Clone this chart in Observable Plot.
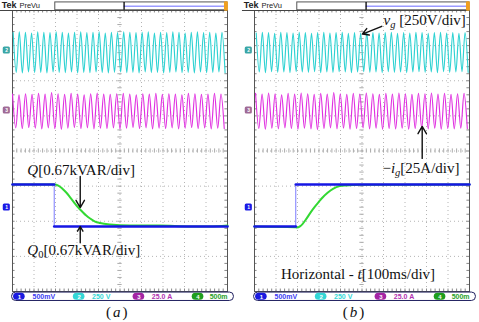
<!DOCTYPE html>
<html><head><meta charset="utf-8">
<script src="https://cdn.jsdelivr.net/npm/d3@7"></script>
<script src="https://cdn.jsdelivr.net/npm/@observablehq/plot@0.6"></script>
<style>
html,body{margin:0;padding:0;background:#fff;}
#chart{width:479px;height:322px;overflow:hidden;}
</style></head><body><div id="chart"></div>
<script>
// ---------- data (oscilloscope divisions) ----------
const panels = ["a", "b"];
const panelLabels = ["(a)", "(b)"];

// channel 2: grid voltage v_g — successive peaks / troughs
const cyanA_hi = [3.37,3.39,3.38,3.36,3.39,3.38,3.37,3.39,3.38,3.36,3.38,3.39,3.37,3.38,3.39,3.36,3.38,3.37,3.39,3.38,3.37,3.38,3.39,3.36,3.38,3.37,3.39,3.38,3.36,3.38,3.39,3.37,3.38,3.36,3.38];
const cyanA_lo = [2.24,2.22,2.25,2.23,2.24,2.22,2.25,2.24,2.23,2.25,2.22,2.24,2.23,2.25,2.24,2.22,2.24,2.25,2.23,2.24,2.22,2.25,2.23,2.24,2.22,2.24,2.25,2.23,2.24,2.22,2.25,2.23,2.24,2.25,2.23];
const cyanB_hi = [3.36,3.38,3.37,3.35,3.38,3.37,3.36,3.38,3.37,3.35,3.37,3.38,3.36,3.37,3.38,3.35,3.37,3.36,3.38,3.37,3.36,3.37,3.38,3.35,3.37,3.36,3.38,3.37,3.35,3.37,3.38,3.36,3.37,3.35,3.37];
const cyanB_lo = [2.25,2.23,2.26,2.24,2.25,2.23,2.26,2.25,2.24,2.26,2.23,2.25,2.24,2.26,2.25,2.23,2.25,2.26,2.24,2.25,2.23,2.26,2.24,2.25,2.23,2.25,2.26,2.24,2.25,2.23,2.26,2.24,2.25,2.26,2.24];
// channel 3: grid current -i_g — successive peaks / troughs
const magA_hi = [1.62,1.60,1.63,1.61,1.64,1.62,1.66,1.63,1.61,1.64,1.62,1.60,1.63,1.65,1.62,1.61,1.63,1.64,1.62,1.60,1.63,1.62,1.64,1.61,1.63,1.62,1.60,1.64,1.63,1.61,1.62,1.64,1.62];
const magA_lo = [0.66,0.64,0.67,0.65,0.63,0.66,0.64,0.62,0.65,0.67,0.64,0.66,0.63,0.65,0.64,0.66,0.62,0.65,0.67,0.64,0.66,0.63,0.65,0.64,0.66,0.63,0.65,0.67,0.64,0.66,0.63,0.65,0.64];
const magB_hi = [1.64,1.62,1.65,1.63,1.60,1.64,1.62,1.65,1.63,1.61,1.64,1.62,1.66,1.63,1.61,1.64,1.62,1.65,1.63,1.61,1.64,1.62,1.65,1.63,1.61,1.64,1.63,1.65,1.62,1.64,1.61,1.63,1.64];
const magB_lo = [0.64,0.62,0.65,0.63,0.66,0.64,0.62,0.65,0.63,0.61,0.64,0.66,0.63,0.65,0.62,0.64,0.66,0.63,0.65,0.62,0.64,0.63,0.65,0.62,0.64,0.66,0.63,0.65,0.62,0.64,0.63,0.65,0.64];

// channel 1: reference Q0 (step)
const blueA_x = [0, 1.94, 1.94, 10];
const blueA_y = [-0.954, -0.954, -2.151, -2.151];
const blueB_x = [0, 1.92, 1.92, 10];
const blueB_y = [-2.151, -2.151, -0.954, -0.954];
// channel 4: measured Q
const greenA_x = [0,1.944,2.13,2.31,2.50,2.69,2.87,3.06,3.24,3.43,3.61,3.84,4.07,4.54,5.46,6.85,8.24,9.17,10];
const greenA_y = [-0.954,-0.954,-0.983,-1.068,-1.182,-1.325,-1.467,-1.610,-1.724,-1.838,-1.923,-2.009,-2.051,-2.094,-2.123,-2.123,-2.151,-2.151,-2.123];
const greenB_x = [0,1.875,1.97,2.13,2.42,2.62,2.80,2.99,3.19,3.40,3.65,3.96,4.27,4.88,10];
const greenB_y = [-2.151,-2.17,-2.18,-2.14,-1.925,-1.74,-1.59,-1.45,-1.31,-1.19,-1.077,-1.00,-0.98,-0.962,-0.954];

// status bar
const chanNums = ["1","2","3","4"];
const chanScales = ["500mV","250 V","25.0 A","500m"];
const chanOval = ["#1a1ae0","#33d6d6","#a424a4","#1e9e1e"];
const chanText = ["#3a3af2","#33d6d6","#b030b0","#28a028"];

// annotations
const annTexts = ["Q[0.67kVAR/div]","Q0[0.67kVAR/div]","vg [250V/div]","−ig[25A/div]","Horizontal - t[100ms/div]"];
const annPanels = ["a","a","b","b","b"];
// ---------- layout ----------
const annPos = [[0.69,-0.556],[0.69,-2.81],[6.0,3.72],[5.95,-0.50],[1.23,-3.52]];
const arrowPos = [
  {panel:"a", x1:3.15, y1:-0.726, x2:3.15, y2:-1.61},
  {panel:"a", x1:3.15, y1:-2.61, x2:3.15, y2:-2.15},
  {panel:"b", x1:5.92, y1:3.55, x2:5.02, y2:3.33},
  {panel:"b", x1:7.80, y1:-0.21, x2:7.80, y2:0.70}
];
const statusOvalX = [0.32,3.10,5.88,8.63];
const statusTextX = [0.93,3.70,6.48,9.17];
const tags = [
  {y:2.86, color:"#3aa6a6", n:"2"},
  {y:1.15, color:"#a06a96", n:"3"},
  {y:-1.61, color:"#1a1ae6", n:"1"}
];

function wave(panel, hi, lo, phase) {
  const n = Math.min(hi.length, lo.length), s = 10 / (2 * n), pts = [];
  for (let i = 0; i < n; i++) {
    pts.push({panel, x: phase + 2 * i * s, y: hi[i]});
    pts.push({panel, x: phase + (2 * i + 1) * s, y: lo[i]});
  }
  return pts;
}
const series = (panel, xs, ys) => xs.map((x, i) => ({panel, x, y: ys[i]}));

const cyan = [...wave("a", cyanA_hi, cyanA_lo, 0.03), ...wave("b", cyanB_hi, cyanB_lo, 0.08)];
const magenta = [...wave("a", magA_hi, magA_lo, 0.0), ...wave("b", magB_hi, magB_lo, 0.05)];
const green = [...series("a", greenA_x, greenA_y), ...series("b", greenB_x, greenB_y)];
const blueA = series("a", blueA_x, blueA_y), blueB = series("b", blueB_x, blueB_y);
const blueFlat = [
  {seg:0, ...blueA[0]}, {seg:0, ...blueA[1]},
  {seg:1, ...blueA[2]}, {seg:1, ...blueA[3]},
  {seg:2, ...blueB[0]}, {seg:2, ...blueB[1]},
  {seg:3, ...blueB[2]}, {seg:3, ...blueB[3]}
];
const blueStep = [
  {panel:"a", x:blueA_x[1], y1:blueA_y[1], y2:blueA_y[2]},
  {panel:"b", x:blueB_x[1], y1:blueB_y[1], y2:blueB_y[2]}
];
const ann = annTexts.map((t, i) => ({panel: annPanels[i], text: t, x: annPos[i][0], y: annPos[i][1]}));
const status = chanNums.map((n, i) => ({n, label: chanScales[i], oval: chanOval[i], color: chanText[i], ox: statusOvalX[i], tx: statusTextX[i]}));
const labels = panels.map((p, i) => ({panel: p, text: panelLabels[i], x: i === 0 ? 4.9 : 4.65}));

const minorY = d3.range(-4, 4.001, 0.2);
const minorX = d3.range(0, 10.001, 0.2);
const sans = "Liberation Sans, Arial, sans-serif";
const serif = "Liberation Serif, Times New Roman, serif";

const plot = Plot.plot({
  width: 479, height: 322,
  marginLeft: 12, marginRight: 9, marginTop: 10, marginBottom: 31,
  fx: {domain: panels, paddingInner: 0.111, paddingOuter: 0, axis: null},
  x: {domain: [0, 10], axis: null},
  y: {domain: [-4, 4], axis: null},
  style: {fontFamily: serif, background: "white", overflow: "visible"},
  marks: [
    // grid
    Plot.ruleX(d3.range(1, 10), {stroke: "#b4b4b4", strokeDasharray: "1,3"}),
    Plot.ruleY(d3.range(-3, 4), {stroke: "#b4b4b4", strokeDasharray: "1,3"}),
    Plot.ruleY(minorY, {x1: 4.9, x2: 5.1, stroke: "#aaa"}),
    Plot.ruleX(minorX, {y1: -0.06, y2: 0.06, stroke: "#aaa"}),
    Plot.ruleY(minorY, {x1: 0, x2: 0.12, stroke: "#888"}),
    Plot.ruleY(minorY, {x1: 9.88, x2: 10, stroke: "#888"}),
    Plot.ruleX(minorX, {y1: 3.93, y2: 4, stroke: "#888"}),
    Plot.ruleX(minorX, {y1: -4, y2: -3.93, stroke: "#888"}),
    Plot.frame({stroke: "#555"}),
    // header
    Plot.ruleY([4], {x1: -0.56, x2: 10, stroke: "#444"}),
    Plot.rect([0], {x1: 1.99, x2: 10, y1: 4.006, y2: 4.23, fill: "white", stroke: "#555"}),
    Plot.ruleY([4.12], {x1: 5.19, x2: 9.9, stroke: "#9a9aff", strokeWidth: 1.6}),
    Plot.ruleX([5.19], {y1: 4.006, y2: 4.23, stroke: "#000", strokeWidth: 1.3}),
    Plot.rect([0], {x1: 9.86, x2: 10.04, y1: 3.98, y2: 4.25, fill: "#f0a020", rx: 1}),
    Plot.text(["Tek"], {x: -0.5, y: 4.14, text: d => d, textAnchor: "start", fontFamily: sans, fontWeight: "bold", fontSize: 9, fill: "#222"}),
    Plot.text(["PreVu"], {x: 0.32, y: 4.14, text: d => d, textAnchor: "start", fontFamily: sans, fontSize: 7.5, fill: "#222"}),
    // channel ground tags
    Plot.rect(tags, {x1: -0.43, x2: -0.1, y1: d => d.y - 0.1, y2: d => d.y + 0.1, fill: "color", rx: 1.5}),
    Plot.text(tags, {x: -0.27, y: "y", text: "n", fill: "white", fontFamily: sans, fontSize: 5, fontWeight: "bold"}),
    // signals
    Plot.line(cyan, {fx: "panel", x: "x", y: "y", z: "panel", stroke: "#2ed2d2", strokeWidth: 1.15, curve: "monotone-x", clip: true}),
    Plot.line(magenta, {fx: "panel", x: "x", y: "y", z: "panel", stroke: "#e030e0", strokeWidth: 1.15, curve: "monotone-x", clip: true}),
    Plot.line(green, {fx: "panel", x: "x", y: "y", z: "panel", stroke: "#33d833", strokeWidth: 2, curve: "monotone-x"}),
    Plot.ruleX(blueStep, {fx: "panel", x: "x", y1: "y1", y2: "y2", stroke: "#7a7aff", strokeWidth: 1}),
    Plot.line(blueFlat, {fx: "panel", x: "x", y: "y", z: "seg", stroke: "#1616e4", strokeWidth: 2.6}),
    // annotations
    Plot.arrow(arrowPos, {fx: "panel", x1: "x1", y1: "y1", x2: "x2", y2: "y2", stroke: "#111", strokeWidth: 1.4, headLength: 9}),
    Plot.text(ann, {fx: "panel", x: "x", y: "y", text: "text", textAnchor: "start", fontSize: 15, fill: "#111"}),
    // status bar
    Plot.rect([0], {x1: -0.02, x2: 10.3, y1: -4.03, y2: -4.27, fill: "white", stroke: "#202060", rx: 4}),
    Plot.rect(status, {x1: d => d.ox - 0.27, x2: d => d.ox + 0.27, y1: -4.05, y2: -4.25, fill: "oval", rx: 3.5}),
    Plot.text(status, {x: "ox", y: -4.15, text: "n", fill: "white", fontFamily: sans, fontSize: 6, fontWeight: "bold"}),
    Plot.text(status, {x: "tx", y: -4.15, text: "label", textAnchor: "start", fill: "color", fontFamily: sans, fontSize: 7, fontWeight: "bold"}),
    // panel labels
    Plot.text(labels, {fx: "panel", x: "x", y: -4.6, text: "text", fontSize: 15, fill: "#111"})
  ]
});

// rich text (italic variables, subscripts)
const rich = new Map([
  ["Q[0.67kVAR/div]", [["Q","i"],["[0.67kVAR/div]"]]],
  ["Q0[0.67kVAR/div]", [["Q","i"],["0","sub"],["[0.67kVAR/div]"]]],
  ["vg [250V/div]", [["v","i"],["g","isub"],[" [250V/div]"]]],
  ["−ig[25A/div]", [["−"],["i","i"],["g","isub"],["[25A/div]"]]],
  ["Horizontal - t[100ms/div]", [["Horizontal - "],["t","i"],["[100ms/div]"]]],
  ["(a)", [["("],["a","i"],[")"]]],
  ["(b)", [["("],["b","i"],[")"]]]
]);
d3.select(plot).selectAll("text").each(function () {
  const key = this.textContent;
  const parts = rich.get(key);
  if (!parts) return;
  const sel = d3.select(this);
  sel.text(null);
  if (key === "(a)" || key === "(b)") sel.attr("letter-spacing", "2");
  let shift = 0;
  for (const [s, st] of parts) {
    const ts = sel.append("tspan").text(s);
    if (st && st.includes("i")) ts.attr("font-style", "italic");
    const want = st && st.includes("sub") ? 3 : 0;
    if (want !== shift) { ts.attr("dy", want - shift); shift = want; }
    if (want) ts.attr("font-size", "70%");
  }
});
document.getElementById("chart").appendChild(plot);
</script>
</body></html>
